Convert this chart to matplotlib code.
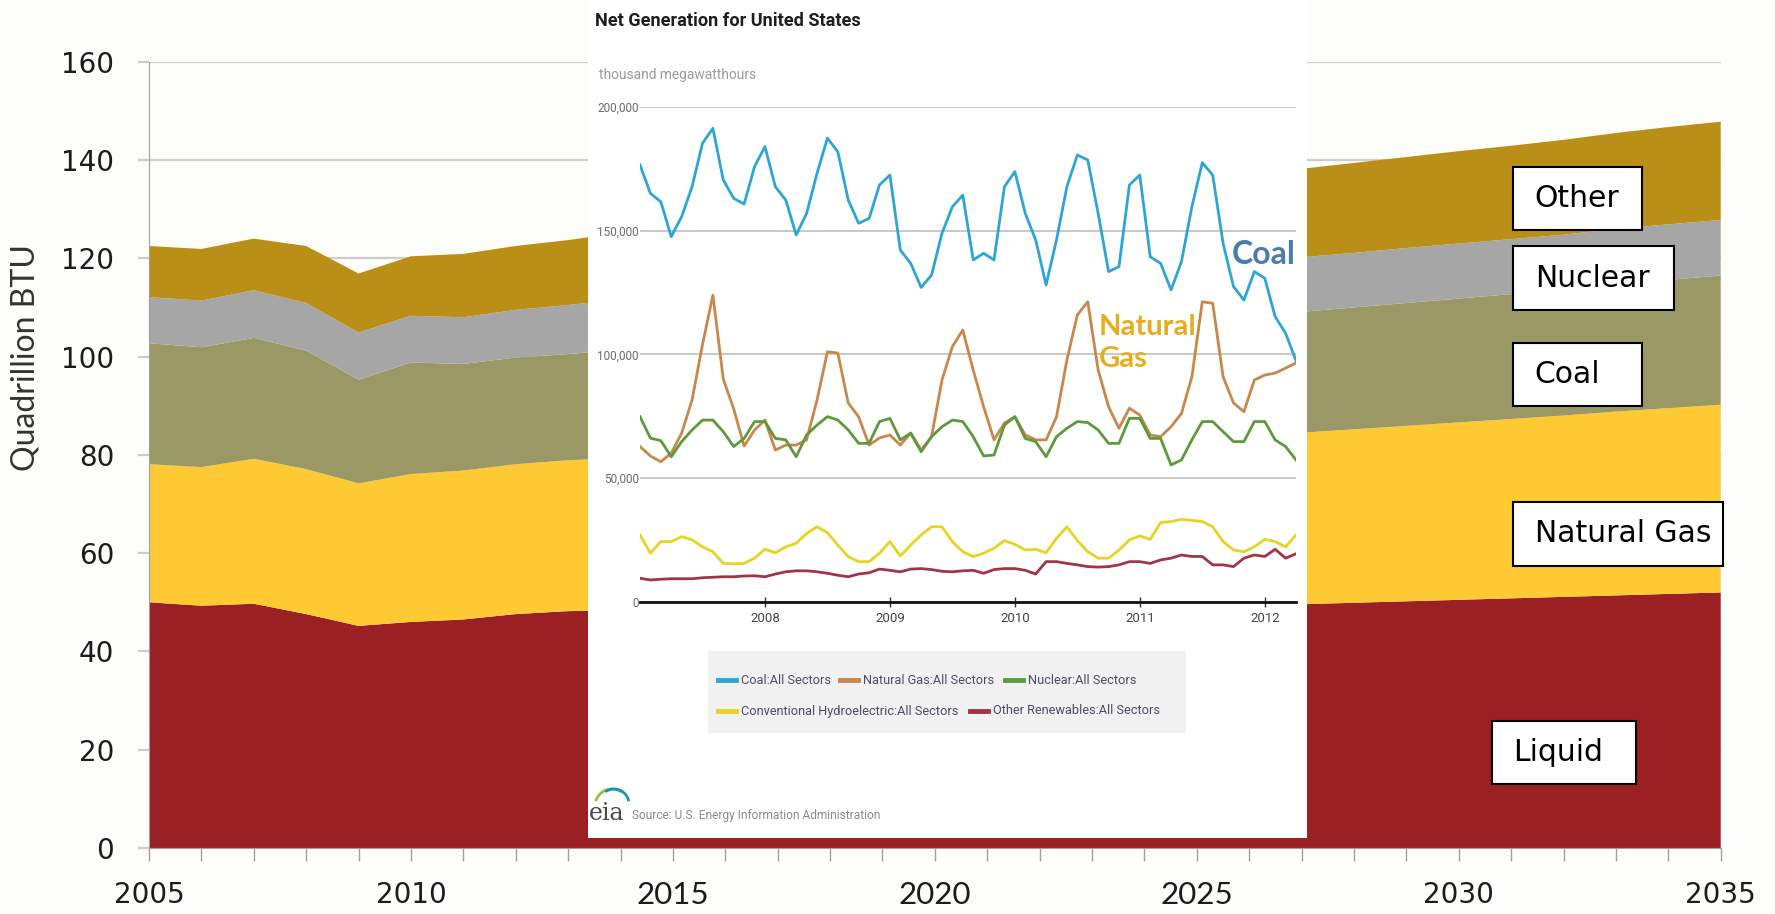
import numpy as np
import matplotlib
matplotlib.use('Agg')
import matplotlib.pyplot as plt
from matplotlib.patches import Rectangle, Arc
from matplotlib.lines import Line2D
from matplotlib.ticker import FuncFormatter

# energy consumption by fuel, quadrillion BTU
years = np.arange(2005, 2036)
liquid = [50.0, 49.3, 49.7, 47.6, 45.2, 46.0, 46.5, 47.6, 48.2, 48.4, 48.6, 48.7, 48.8, 48.9,
          49.0, 49.0, 49.1, 49.2, 49.3, 49.4, 49.5, 49.5, 49.6, 49.9, 50.2, 50.5, 50.8, 51.1,
          51.4, 51.7, 52.0]
natural_gas = [28.1, 28.2, 29.5, 29.5, 29.0, 30.1, 30.3, 30.5, 30.7, 31.0, 31.2, 31.6, 31.9,
               32.1, 32.5, 32.8, 33.0, 33.4, 33.7, 34.0, 34.3, 34.6, 34.9, 35.3, 35.7, 36.1,
               36.5, 36.9, 37.4, 37.8, 38.2]
coal = [24.6, 24.4, 24.6, 24.1, 21.1, 22.7, 21.7, 21.7, 21.6, 22.0, 22.3, 22.5, 22.8, 23.0,
        23.2, 23.4, 23.6, 23.8, 24.0, 24.2, 24.3, 24.5, 24.6, 24.8, 25.0, 25.2, 25.4, 25.6,
        25.9, 26.1, 26.3]
nuclear = [9.4, 9.5, 9.7, 9.7, 9.6, 9.5, 9.5, 9.7, 10.0, 10.2, 10.4, 10.6, 10.8, 10.9, 11.0,
           11.1, 11.1, 11.1, 11.1, 11.1, 11.1, 11.1, 11.1, 11.1, 11.2, 11.2, 11.2, 11.2, 11.3,
           11.3, 11.3]
other = [10.4, 10.5, 10.5, 11.6, 12.0, 12.1, 12.9, 13.0, 13.2, 13.6, 14.0, 14.5, 14.9, 15.3,
         15.7, 16.0, 16.3, 16.6, 16.9, 17.2, 17.5, 17.8, 18.0, 18.3, 18.5, 18.8, 19.0, 19.3,
         19.5, 19.8, 20.0]
layer_colors = ['#9a2023', '#fec932', '#9a9966', '#a6a6a6', '#b98f18']

# monthly net generation, thousand MWh, Jan 2007 - Apr 2012
gen_coal = [176.6, 165.1, 161.7, 147.6, 155.7, 167.8, 185.3, 191.4, 170.5, 163.1, 160.8, 175.9,
            184.0, 167.8, 162.4, 148.3, 157.0, 173.2, 187.4, 181.9, 162.4, 153.0, 155.0, 168.5,
            172.5, 142.2, 136.8, 127.1, 132.1, 149.0, 159.7, 164.4, 138.2, 140.9, 138.2, 167.8,
            173.9, 157.0, 146.3, 128.1, 146.3, 167.8, 180.6, 178.6, 157.0, 133.5, 135.5, 168.5,
            172.5, 139.5, 136.8, 126.1, 137.5, 159.7, 177.5, 172.5, 144.9, 127.4, 122.0, 133.5,
            130.8, 115.3, 108.6, 97.5]
gen_gas = [62.8, 59.0, 56.7, 60.1, 68.2, 81.6, 104.0, 124.0, 90.0, 78.0, 63.0, 69.5,
           73.5, 61.4, 63.4, 63.4, 65.5, 81.6, 101.1, 100.6, 80.4, 74.8, 63.4, 66.3,
           67.5, 63.4, 68.3, 61.4, 66.8, 89.7, 103.2, 109.9, 93.7, 78.9, 65.5, 72.3,
           74.8, 67.5, 65.5, 65.5, 74.8, 97.8, 116.0, 121.3, 93.7, 78.9, 70.2, 78.3,
           75.5, 67.5, 66.8, 70.8, 76.2, 91.0, 121.3, 120.7, 91.0, 80.4, 76.9, 89.7,
           91.7, 92.5, 94.5, 96.6]
gen_nuclear = [74.9, 66.2, 65.2, 58.7, 64.8, 69.5, 73.5, 73.5, 68.8, 62.8, 66.1, 72.9,
               72.9, 66.1, 65.5, 58.7, 67.5, 71.5, 74.9, 73.5, 69.5, 64.1, 64.1, 72.9,
               74.2, 65.5, 68.2, 60.7, 66.8, 70.8, 73.5, 72.9, 66.8, 59.0, 59.4, 71.5,
               74.9, 66.1, 64.8, 58.7, 66.8, 70.2, 72.9, 72.5, 69.5, 64.1, 64.1, 74.2,
               74.2, 66.1, 66.1, 55.4, 57.4, 65.5, 72.9, 72.9, 68.8, 64.8, 64.8, 72.9,
               72.9, 65.5, 62.8, 57.4]
gen_hydro = [27.1, 19.7, 24.4, 24.4, 26.4, 25.1, 22.3, 20.3, 15.6, 15.4, 15.6, 17.7,
             21.3, 19.9, 22.3, 23.7, 27.7, 30.4, 28.0, 23.0, 18.3, 16.3, 16.3, 19.7,
             24.4, 18.6, 23.0, 27.1, 30.4, 30.4, 24.4, 20.3, 18.3, 19.7, 21.7, 24.8,
             23.3, 21.0, 21.3, 19.9, 25.7, 30.4, 24.8, 20.3, 17.7, 17.7, 21.0, 25.1,
             26.7, 25.3, 32.1, 32.5, 33.4, 33.0, 32.5, 30.4, 24.4, 21.0, 20.3, 22.3,
             25.3, 24.4, 22.3, 27.1]
gen_renew = [9.6, 8.9, 9.2, 9.4, 9.4, 9.4, 9.8, 10.0, 10.2, 10.2, 10.5, 10.6,
             10.2, 11.3, 12.2, 12.6, 12.6, 12.2, 11.6, 10.8, 10.2, 11.3, 11.8, 13.3,
             12.8, 12.2, 13.3, 13.5, 13.1, 12.4, 12.2, 12.6, 12.8, 11.6, 13.1, 13.5,
             13.5, 12.8, 11.3, 16.3, 16.3, 15.6, 15.0, 14.3, 14.1, 14.3, 15.0, 16.3,
             16.3, 15.6, 17.0, 17.7, 19.0, 18.4, 18.4, 15.0, 15.0, 14.3, 17.7, 19.0,
             18.4, 21.3, 17.7, 19.5]
gen_names = ['Coal:All Sectors', 'Natural Gas:All Sectors', 'Nuclear:All Sectors',
             'Conventional Hydroelectric:All Sectors', 'Other Renewables:All Sectors']
gen_colors = ['#2ea5d6', '#c9874c', '#5c9a3c', '#e8d320', '#a3334b']

W, H = 1775, 914
BG = '#fdfdf9'
NARROW = ['Liberation Sans Narrow', 'Roboto', 'DejaVu Sans']


def fx(x):
    return x / W


def fy(y):
    return 1 - y / H


fig = plt.figure(figsize=(W / 100, H / 100), dpi=100, facecolor=BG)
renderer = fig.canvas.get_renderer()


def fit_width(txt, width_px):
    # shrink or grow a text so it spans the given pixel width
    w = txt.get_window_extent(renderer).width
    txt.set_fontsize(txt.get_fontsize() * width_px / w)
    return txt


# ---- main stacked area chart ----
ax = fig.add_axes([fx(149), fy(848), (1720.7 - 149) / W, (848 - 61.7) / H], zorder=0)
ax.set_facecolor(BG)
ax.stackplot(years, liquid, natural_gas, coal, nuclear, other,
             colors=layer_colors, linewidth=0, zorder=2)
ax.set_xlim(2005, 2035)
ax.set_ylim(0, 160)
ax.set_yticks(range(0, 161, 20))
ax.yaxis.grid(True, color='#cdcdcd', linewidth=1.6)
ax.set_axisbelow(True)
ax.set_xticks(range(2005, 2036, 5))
ax.set_xticks(years, minor=True)
for s in ['top', 'right']:
    ax.spines[s].set_visible(False)
ax.spines['left'].set_color('#a0a0a0')
ax.spines['bottom'].set_color('#a0a0a0')
ax.tick_params(axis='y', length=8, width=1.6, color='#cdcdcd', pad=17,
               labelsize=20, labelcolor='#1c1c1c')
ax.tick_params(axis='x', which='both', length=9.5, width=1, color='#a0a0a0', pad=14,
               labelsize=20, labelcolor='#1c1c1c')
for lbl in ax.get_xticklabels():
    if lbl.get_text() in ('2015', '2020', '2025'):
        lbl.set_fontfamily(['Lato', 'DejaVu Sans'])
        lbl.set_fontsize(22.5)
fig.text(fx(26), fy(358), 'Quadrillion BTU', family=['Lato', 'DejaVu Sans'], fontsize=23,
         color='#333333', rotation=90, ha='center', va='center')

# labelled boxes for each layer
boxes = [('Other', 1513, 167, 1642, 230, 1534),
         ('Nuclear', 1513, 246, 1674, 310, 1535),
         ('Coal', 1513, 343, 1642, 406, 1534),
         ('Natural Gas', 1513, 502, 1723, 566, 1535),
         ('Liquid', 1492, 721, 1636, 784, 1513)]
for name, x0, y0, x1, y1, tx in boxes:
    fig.add_artist(Rectangle((fx(x0), fy(y1)), (x1 - x0) / W, (y1 - y0) / H,
                             transform=fig.transFigure, facecolor='white',
                             edgecolor='black', linewidth=1.5, zorder=4))
    fig.text(fx(tx), fy((y0 + y1) / 2), name, fontsize=21.5, color='black',
             ha='left', va='center', zorder=5)

# ---- net generation panel ----
fig.add_artist(Rectangle((fx(588), fy(838)), (1307 - 588) / W, 838 / H,
                         transform=fig.transFigure, facecolor='white',
                         edgecolor='none', zorder=2))
iax = fig.add_axes([fx(640), fy(602), (1296 - 640) / W, (602 - 107) / H], zorder=3)
iax.patch.set_alpha(0)
months = 2007 + np.arange(len(gen_coal)) / 12
for series, c in zip([gen_coal, gen_gas, gen_nuclear, gen_hydro, gen_renew], gen_colors):
    iax.plot(months, series, color=c, linewidth=2, solid_joinstyle='round')
iax.set_xlim(2007, 2012.25)
iax.set_ylim(0, 200)
iax.set_yticks([0, 50, 100, 150, 200])
iax.yaxis.set_major_formatter(FuncFormatter(lambda v, p: f'{int(v * 1000):,}'))
iax.yaxis.grid(True, color='#c4c4c4', linewidth=1.3)
iax.set_axisbelow(True)
iax.set_xticks(range(2008, 2013))
for s in ['top', 'right', 'left']:
    iax.spines[s].set_visible(False)
iax.spines['bottom'].set_linewidth(2)
iax.spines['bottom'].set_color('#111111')
iax.tick_params(axis='y', length=0, pad=1, labelsize=8.5, labelcolor='#6a6a6a')
iax.tick_params(axis='x', direction='inout', length=7, width=1, color='#333333', pad=4,
                labelsize=9.5, labelcolor='#444444')
for lbl in iax.get_xticklabels() + iax.get_yticklabels():
    lbl.set_fontfamily(NARROW)

title = fig.text(fx(595), fy(21), 'Net Generation for United States', family=NARROW,
                 fontweight='bold', fontsize=13, color='#1e1e1e', va='center', zorder=4)
fit_width(title, 266)
unit = fig.text(fx(599), fy(75), 'thousand megawatthours', family=NARROW, fontsize=11,
                color='#9a9a9a', va='center', zorder=4)
fit_width(unit, 156)

# legend block
fig.add_artist(Rectangle((fx(708), fy(733)), (1186 - 708) / W, (733 - 651) / H,
                         transform=fig.transFigure, facecolor='#f1f1f1',
                         edgecolor='none', zorder=3))
legend_pos = [(718, 680), (840, 680), (1005, 680), (718, 711), (970, 711)]
legend_texts = []
for (lx, ly), name, c in zip(legend_pos, gen_names, gen_colors):
    fig.add_artist(Line2D([fx(lx), fx(lx + 18)], [fy(ly), fy(ly)], color=c,
                          linewidth=3.5, transform=fig.transFigure, zorder=4))
    legend_texts.append(fig.text(fx(lx + 23), fy(ly), name, family=NARROW, fontsize=9,
                                 color='#4c4c66', va='center', zorder=4))
fit_width(legend_texts[3], 219)
for t in legend_texts:
    t.set_fontsize(legend_texts[3].get_fontsize())

# eia logo and source line
fig.text(fx(589), fy(814), 'eia', family='DejaVu Serif', fontsize=17, color='#4a4a4a',
         va='center', zorder=4)
fig.add_artist(Arc((fx(612), fy(806)), 34 / W, 34 / H, theta1=70, theta2=150,
                   color='#8cc63f', linewidth=2, transform=fig.transFigure, zorder=4))
fig.add_artist(Arc((fx(614), fy(804)), 30 / W, 30 / H, theta1=20, theta2=110,
                   color='#1b8fc7', linewidth=2, transform=fig.transFigure, zorder=4))
source = fig.text(fx(632), fy(815), 'Source: U.S. Energy Information Administration',
                  family=NARROW, fontsize=9, color='#8a8a8a', va='center', zorder=4)
fit_width(source, 250)

# call-out labels on the generation lines
fig.text(fx(1232), fy(255), 'Coal', family=['Lato', 'DejaVu Sans'], fontweight='bold',
         fontsize=23, color='#4a7dab', va='center', zorder=6)
fig.text(fx(1099), fy(343), 'Natural\nGas', family=['Lato', 'DejaVu Sans'],
         fontweight='bold', fontsize=21, color='#e6ad1e', va='center', linespacing=1.25,
         zorder=6)

fig.savefig('out.png', dpi=100, facecolor=BG)
